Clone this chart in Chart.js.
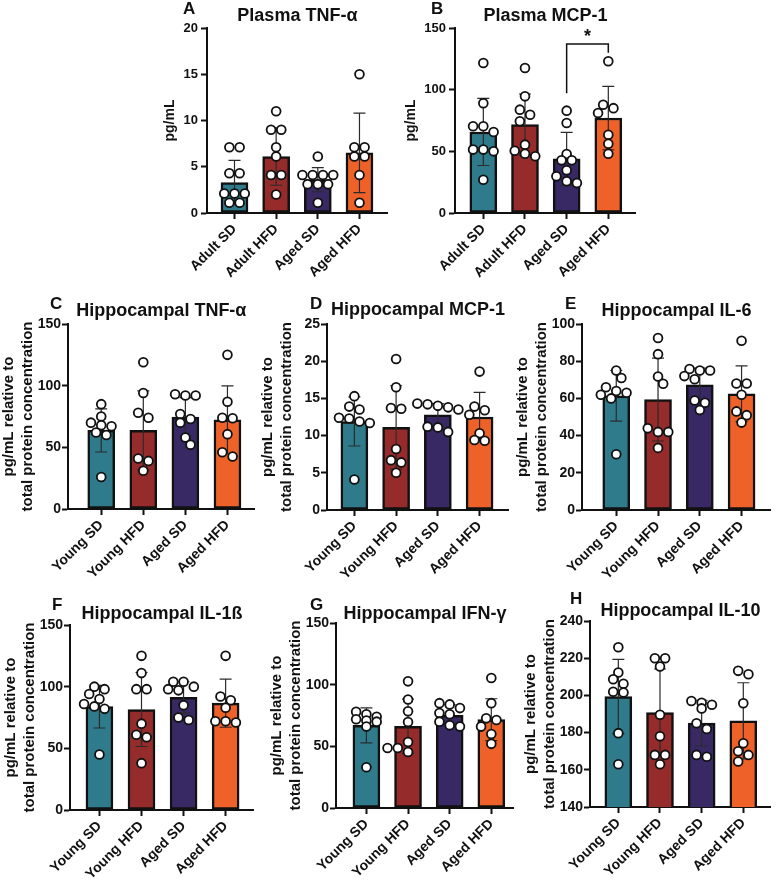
<!DOCTYPE html>
<html lang="en">
<head>
<meta charset="UTF-8">
<title>Plasma and hippocampal cytokines</title>
<script src="https://cdn.jsdelivr.net/npm/chart.js@4.4.1/dist/chart.umd.min.js"></script>
<style>
  html, body { margin:0; padding:0; background:#fff; overflow:hidden; }
  #wrap { position:relative; width:777px; height:883px; overflow:hidden; }
  #wrap canvas { position:absolute; }
  .letter { position:absolute; font:bold 17px "Liberation Sans", Arial, sans-serif; line-height:17px; color:#111; }
</style>
</head>
<body>
<div id="wrap"></div>
<script>
// groups
const plasmaGroups = ['Adult SD', 'Adult HFD', 'Aged SD', 'Aged HFD'];
const hippoGroups = ['Young SD', 'Young HFD', 'Aged SD', 'Aged HFD'];
const barColors = ['#2F7B8C', '#962B2B', '#382864', '#EE6229'];

// A - Plasma TNF-a
const plasmaTnfMean = [3.3, 6.1, 3.6, 6.5];
const plasmaTnfSD = [2.4, 3.1, 1.3, 4.3];
const plasmaTnfPoints = [
  [7.1, 7.1, 4.3, 4.3, 2.1, 2.1, 2.1, 1.1, 1.1],
  [11.0, 9.0, 9.0, 7.1, 6.1, 4.1, 4.1, 2.0],
  [6.1, 4.1, 4.1, 4.1, 4.1, 3.1, 3.1, 3.1, 1.1],
  [15.0, 7.1, 7.1, 6.1, 6.1, 4.1, 1.1]
];

// B - Plasma MCP-1
const plasmaMcpMean = [65.7, 71.6, 44.0, 77.0];
const plasmaMcpSD = [27.2, 24.9, 21.4, 25.7];
const plasmaMcpPoints = [
  [121.6, 89, 70.3, 70.3, 65.7, 51.4, 51.4, 50.0, 27],
  [117.6, 94.6, 83.8, 79.7, 74.3, 55.4, 50.5, 48, 46],
  [83, 73, 47.8, 42.7, 42.7, 34.6, 29.7, 25.7, 24.3],
  [123, 87.8, 85, 81, 63.5, 56.2, 48]
];
const sigGroups = [2, 3];
const sigLevels = [97, 137, 130];   // left leg end, bracket top, right leg end
const sigText = '*';

// C - Hippocampal TNF-a
const hipTnfMean = [63.7, 63.7, 74.5, 72.3];
const hipTnfSD = [17.5, 32, 15.8, 27.5];
const hipTnfPoints = [
  [85, 75, 70, 67, 68, 62, 60, 26],
  [119, 94, 78, 74, 41, 39, 31],
  [93, 92, 92, 77, 73, 70, 58, 52],
  [125, 87, 74, 73.6, 60.7, 46, 42.6]
];

// D - Hippocampal MCP-1
const hipMcpMean = [11.9, 11.1, 12.8, 12.5];
const hipMcpSD = [3.3, 5.6, 1.5, 3.3];
const hipMcpPoints = [
  [15.3, 13.9, 13.5, 12.4, 12.3, 11.9, 11.7, 4.1],
  [20.3, 16.5, 13.6, 13.7, 8.2, 6.7, 6.4, 5.0],
  [14.3, 14.2, 14.0, 13.8, 13.5, 11.2, 11.1, 10.5],
  [18.6, 13.9, 13.4, 12.8, 10.3, 9.3, 9.4]
];

// E - Hippocampal IL-6
const hipIl6Mean = [61.4, 59.4, 67.3, 62.5];
const hipIl6SD = [13.6, 22.3, 9.0, 15.0];
const hipIl6Points = [
  [75, 71, 66, 64, 63, 62, 60, 30],
  [92.5, 83.8, 71.8, 67.9, 43.9, 42, 42, 33.4],
  [75.8, 75, 75, 72, 70.3, 58.9, 57.7, 53.7],
  [91, 68, 68, 62, 53, 51, 47]
];

// F - Hippocampal IL-1b
const hipIl1Mean = [83.8, 81.5, 91.4, 86.6];
const hipIl1SD = [17.3, 30, 12.6, 19.5];
const hipIl1Points = [
  [100, 98, 94, 90, 86, 84, 82, 45],
  [125, 111, 98, 98, 70, 61, 59, 38],
  [104, 104, 100, 98, 97, 85, 75, 73],
  [125, 92, 89, 83, 71, 72, 72]
];

// G - Hippocampal IFN-g
const hipIfnMean = [67, 66.3, 75.1, 71.6];
const hipIfnSD = [14.2, 22, 8.7, 17];
const hipIfnPoints = [
  [78, 76, 74, 72, 71, 70, 66, 33],
  [102.7, 88, 78.4, 69.7, 53.5, 48.6, 48.6, 45.4],
  [85, 84, 81, 77, 76, 70, 67, 66],
  [105.4, 85, 72.7, 71.4, 66, 60, 52]
];

// H - Hippocampal IL-10
const hipIl10Mean = [199.4, 190.8, 185.1, 186.3];
const hipIl10SD = [20, 23.4, 12.3, 20.5];
const hipIl10Points = [
  [225.9, 212.3, 208.7, 206.2, 202, 201.5, 179.7, 163],
  [220, 220, 215.5, 189.6, 178, 168, 168, 163],
  [197, 196, 195, 193, 185, 182, 168, 167],
  [213.2, 211.4, 195.8, 174.3, 170, 168, 164.5]
];

const hippoTitle = ['pg/mL relative to', 'total protein concentration'];
const FONT = '"Liberation Sans", Arial, sans-serif';

// layout: chart area [left, right, top, bottom] in page px, x range, title centre y
const panels = [
  {letter:'A', lp:[183,0], title:'Plasma TNF-α', groups:plasmaGroups, mean:plasmaTnfMean, sd:plasmaTnfSD, pts:plasmaTnfPoints,
   yTitle:'pg/mL', yTitleX:170, y:[0,20,5], ca:[207,392,28,213], xr:[-0.66,3.68], tc:16, tick:13},
  {letter:'B', lp:[431,0], title:'Plasma MCP-1', groups:plasmaGroups, mean:plasmaMcpMean, sd:plasmaMcpSD, pts:plasmaMcpPoints,
   yTitle:'pg/mL', yTitleX:411, y:[0,150,50], ca:[455,640,28,213], xr:[-0.68,3.66], tc:16, tick:13, sig:true},
  {letter:'C', lp:[50,295], title:'Hippocampal TNF-α', groups:hippoGroups, mean:hipTnfMean, sd:hipTnfSD, pts:hipTnfPoints,
   yTitle:hippoTitle, y:[0,150,50], ca:[68,259,324,509], xr:[-0.79,3.65], tc:311, tick:14},
  {letter:'D', lp:[310,295], title:'Hippocampal MCP-1', groups:hippoGroups, mean:hipMcpMean, sd:hipMcpSD, pts:hipMcpPoints,
   yTitle:hippoTitle, y:[0,25,5], ca:[327,513,324,510], xr:[-0.656,3.70], tc:310, tick:14},
  {letter:'E', lp:[565,295], title:'Hippocampal IL-6', groups:hippoGroups, mean:hipIl6Mean, sd:hipIl6SD, pts:hipIl6Points,
   yTitle:hippoTitle, y:[0,100,20], ca:[582,775,324,510], xr:[-0.82,3.70], tc:311, tick:14},
  {letter:'F', lp:[52,596], title:'Hippocampal IL-1ß', groups:hippoGroups, mean:hipIl1Mean, sd:hipIl1SD, pts:hipIl1Points,
   yTitle:hippoTitle, y:[0,150,50], ca:[70,258,625,810], xr:[-0.70,3.67], tc:614, tick:14},
  {letter:'G', lp:[310,596], title:'Hippocampal IFN-γ', groups:hippoGroups, mean:hipIfnMean, sd:hipIfnSD, pts:hipIfnPoints,
   yTitle:hippoTitle, y:[0,150,50], ca:[336,518,623,808], xr:[-0.73,3.54], tc:614, tick:14},
  {letter:'H', lp:[570,590], title:'Hippocampal IL-10', groups:hippoGroups, mean:hipIl10Mean, sd:hipIl10SD, pts:hipIl10Points,
   yTitle:hippoTitle, y:[140,240,20], ca:[590,775,621,807], xr:[-0.68,3.66], tc:611, tick:14}
];

// spread points of similar value sideways, like a prism scatter
function swarm(vals, centre, pxX, pxY) {
  const dx = 10.5 / pxX;
  const sorted = vals.slice().sort((a, b) => b - a);
  const rows = [];
  sorted.forEach(v => {
    const row = rows[rows.length - 1];
    if (row && (row[0] - v) * pxY < 6) row.push(v); else rows.push([v]);
  });
  const placed = [];
  rows.forEach(row => {
    let best = null;
    for (const s of [0, 0.5, -0.5, 1, -1]) {
      const cand = row.map((v, k) => ({x: centre + (k - (row.length - 1) / 2 + s) * dx, y: v}));
      const ok = cand.every(c => placed.every(q => Math.hypot((c.x - q.x) * pxX, (c.y - q.y) * pxY) >= 8.5));
      if (ok) { best = cand; break; }
    }
    if (!best) best = row.map((v, k) => ({x: centre + (k - (row.length - 1) / 2) * dx, y: v}));
    placed.push(...best);
  });
  return placed;
}

const wrap = document.getElementById('wrap');

function drawPanel(p) {
  const [l, r, t, b] = p.ca;
  const two = Array.isArray(p.yTitle);
  const scaleLeft = Math.round(two ? l - 69 : p.yTitleX - 8.4);
  const top = Math.max(0, t - 34);
  const xH = 76;
  const cv = document.createElement('canvas');
  cv.width = r + 2 - scaleLeft;
  cv.height = b + xH - top;
  cv.style.left = scaleLeft + 'px';
  cv.style.top = top + 'px';
  wrap.appendChild(cv);

  const div = document.createElement('div');
  div.className = 'letter';
  div.textContent = p.letter;
  div.style.left = p.lp[0] + 'px';
  div.style.top = p.lp[1] + 'px';
  wrap.appendChild(div);

  const pxX = (r - l) / (p.xr[1] - p.xr[0]);
  const pxY = (b - t) / (p.y[1] - p.y[0]);
  let scatter = [];
  p.pts.forEach((vals, i) => { scatter = scatter.concat(swarm(vals, i, pxX, pxY)); });

  const errorBars = {
    id: 'errorBars' + p.letter,
    beforeDatasetDraw(chart, args) {
      if (args.index !== 1) return;
      const xs = chart.scales.x, ys = chart.scales.y, ctx = chart.ctx;
      ctx.save();
      ctx.strokeStyle = '#2b2b2b';
      ctx.lineWidth = 1.2;
      p.mean.forEach((m, i) => {
        const x = xs.getPixelForValue(i);
        const y1 = ys.getPixelForValue(m + p.sd[i]);
        const y0 = ys.getPixelForValue(m - p.sd[i]);
        ctx.beginPath();
        ctx.moveTo(x, y0); ctx.lineTo(x, y1);
        ctx.moveTo(x - 6, y1); ctx.lineTo(x + 6, y1);
        ctx.moveTo(x - 6, y0); ctx.lineTo(x + 6, y0);
        ctx.stroke();
      });
      ctx.restore();
    },
    afterDatasetsDraw(chart) {
      if (!p.sig) return;
      const xs = chart.scales.x, ys = chart.scales.y, ctx = chart.ctx;
      const xa = xs.getPixelForValue(sigGroups[0]), xb = xs.getPixelForValue(sigGroups[1]);
      const yTop = ys.getPixelForValue(sigLevels[1]);
      ctx.save();
      ctx.strokeStyle = '#111';
      ctx.lineWidth = 1.5;
      ctx.beginPath();
      ctx.moveTo(xa, ys.getPixelForValue(sigLevels[0]));
      ctx.lineTo(xa, yTop);
      ctx.lineTo(xb, yTop);
      ctx.lineTo(xb, ys.getPixelForValue(sigLevels[2]));
      ctx.stroke();
      ctx.fillStyle = '#111';
      ctx.font = 'bold 18px ' + FONT;
      ctx.textAlign = 'center';
      ctx.textBaseline = 'alphabetic';
      ctx.fillText(sigText, (xa + xb) / 2, yTop - 2);
      ctx.restore();
    }
  };

  new Chart(cv, {
    type: 'bar',
    data: {
      datasets: [{
        order: 1,
        data: p.mean.map((m, i) => ({x: i, y: m})),
        backgroundColor: barColors,
        borderColor: '#111',
        borderWidth: 2.5,
        borderSkipped: false,
        barThickness: 27
      }, {
        order: 0,
        type: 'scatter',
        data: scatter,
        pointRadius: 4.4,
        pointBackgroundColor: '#fff',
        pointBorderColor: '#111',
        pointBorderWidth: 1.8,
        clip: false
      }]
    },
    options: {
      responsive: false,
      animation: false,
      devicePixelRatio: 1,
      events: [],
      layout: {padding: {top: p.tc - 9 - top, left: 0, right: 2, bottom: 0}},
      plugins: {
        legend: {display: false},
        tooltip: {enabled: false},
        title: {
          display: true, text: p.title, fullSize: false, color: '#111',
          font: {family: FONT, size: 18, weight: 'bold', lineHeight: 1},
          padding: {top: 0, bottom: t - p.tc - 9}
        }
      },
      scales: {
        x: {
          type: 'linear', min: p.xr[0], max: p.xr[1], offset: false, bounds: 'data',
          afterBuildTicks: s => { s.ticks = [0, 1, 2, 3].map(v => ({value: v})); },
          afterFit: s => { s.height = xH; },
          grid: {offset: false, drawOnChartArea: false, drawTicks: true, tickLength: 6, tickColor: '#111', tickWidth: 2},
          border: {display: true, color: '#111', width: 2},
          ticks: {
            autoSkip: false, minRotation: 45, maxRotation: 45, padding: 2, color: '#111',
            font: {family: FONT, size: 14, weight: 'bold'},
            callback: v => p.groups[v]
          }
        },
        y: {
          min: p.y[0], max: p.y[1],
          afterFit: s => { s.width = l - scaleLeft; },
          grid: {drawOnChartArea: false, drawTicks: true, tickLength: 6, tickColor: '#111', tickWidth: 2},
          border: {display: true, color: '#111', width: 2},
          ticks: {stepSize: p.y[2], padding: two ? 1 : 3, color: '#111', font: {family: FONT, size: p.tick, weight: 'bold'}},
          title: {
            display: true, text: p.yTitle, color: '#111', padding: {top: 0, bottom: 0},
            font: {family: FONT, size: two ? 15 : 14, weight: 'bold', lineHeight: two ? 1.27 : 1.2}
          }
        }
      }
    },
    plugins: [errorBars]
  });
}

// make sure the bold face is ready before the canvases paint text
Promise.all([
  document.fonts.load('bold 14px "Liberation Sans"'),
  document.fonts.load('14px "Liberation Sans"')
]).catch(() => {}).then(() => panels.forEach(drawPanel));
</script>
</body>
</html>
